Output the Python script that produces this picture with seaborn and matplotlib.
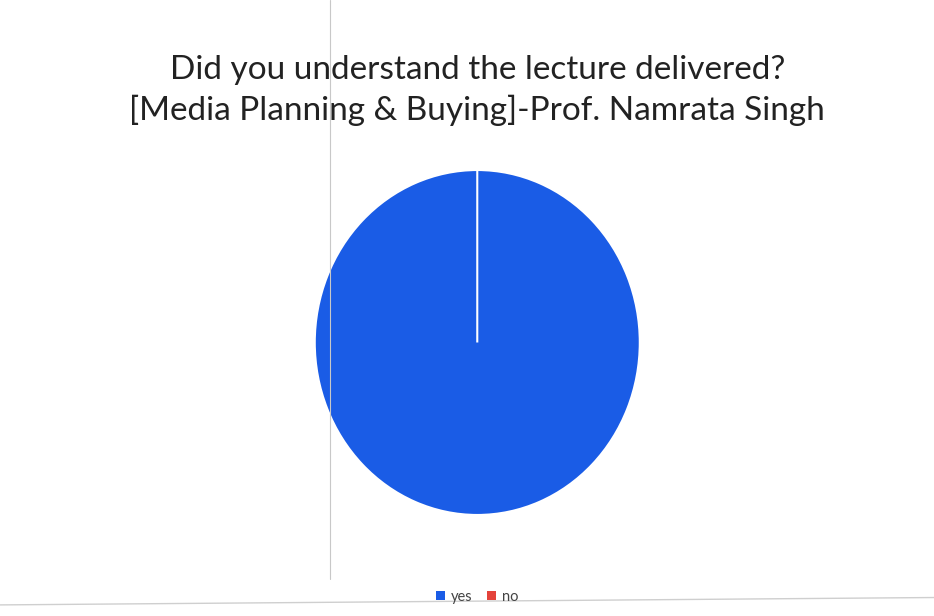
import matplotlib
matplotlib.use("Agg")
import matplotlib.pyplot as plt
from matplotlib.patches import Patch
import seaborn as sns

# survey answers (the "no" share is empty)
labels = ["yes", "no"]
counts = [100, 0]
colors = ["#1a5ce6", "#e4433b"]

title = ("Did you understand the lecture delivered?\n"
         "[Media Planning & Buying]-Prof. Namrata Singh")

sns.set_theme(style="white")
plt.rcParams["font.family"] = ["Lato", "DejaVu Sans"]

fig = plt.figure(figsize=(9.34, 6.16), dpi=100)
fig.patch.set_facecolor("white")

# faint scan marks from the photographed page
fig.add_artist(plt.Line2D([0.353, 0.353], [0.06, 1.0], color="#c8c8c8", lw=0.8))
fig.add_artist(plt.Line2D([0.0, 1.0], [0.018, 0.03], color="#cfcfcf", lw=1.0))

ax = fig.add_axes([0.337, 0.164, 0.348, 0.56])
ax.pie(counts, colors=colors, startangle=90, counterclock=False,
       wedgeprops=dict(edgecolor="white", linewidth=1.5))
ax.set_aspect("auto")
ax.set_xlim(-1.0, 1.0)
ax.set_ylim(-1.0, 1.0)

fig.text(0.511, 0.853, title, ha="center", va="center",
         fontsize=24, color="#222222", linespacing=1.35)

handles = [Patch(facecolor=c, edgecolor="none") for c in colors]
fig.legend(handles, labels, loc="center", bbox_to_anchor=(0.511, 0.031),
           ncol=2, frameon=False, fontsize=10.5, handlelength=0.6,
           handleheight=0.6, handletextpad=0.4, columnspacing=1.0,
           labelcolor="#444444")

fig.savefig("out.png", dpi=100, facecolor="white")
